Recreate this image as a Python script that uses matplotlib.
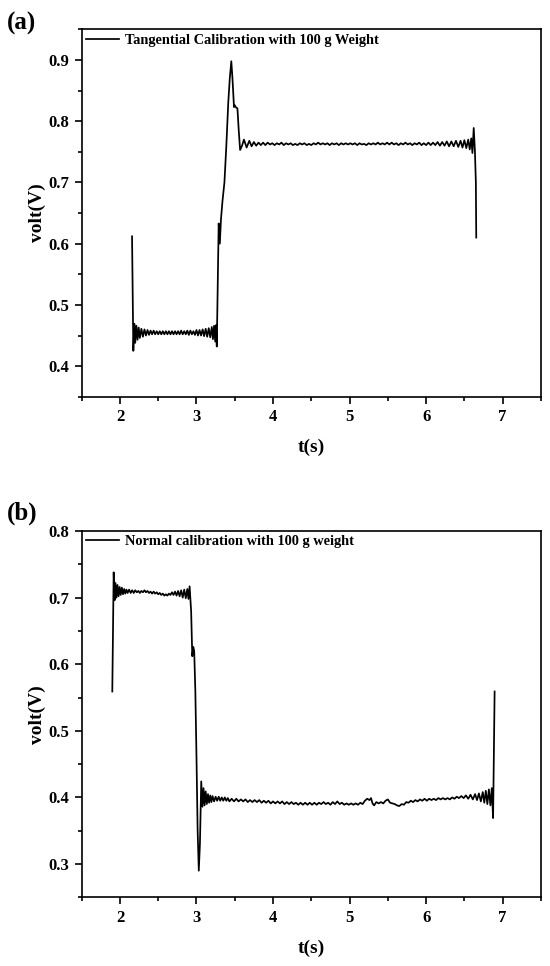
import matplotlib
matplotlib.use("Agg")
import matplotlib.pyplot as plt
from matplotlib.ticker import MultipleLocator

plt.rcParams['font.family'] = ['Liberation Serif', 'DejaVu Serif']
plt.rcParams['font.weight'] = 'bold'

# ---------------- data: panel (a) tangential calibration ----------------
t_a = [2.158, 2.175, 2.188, 2.200, 2.215, 2.230, 2.245, 2.260, 2.280, 2.300,
       2.320, 2.340, 2.360, 2.380, 2.400, 2.420, 2.440, 2.460, 2.480, 2.500,
       2.520, 2.540, 2.560, 2.580, 2.600, 2.620, 2.640, 2.660, 2.680, 2.700,
       2.720, 2.740, 2.760, 2.780, 2.800, 2.820, 2.840, 2.860, 2.880, 2.900,
       2.920, 2.940, 2.960, 2.980, 3.000, 3.020, 3.040, 3.060, 3.080, 3.100,
       3.120, 3.140, 3.160, 3.180, 3.200, 3.215, 3.230, 3.245, 3.255, 3.265,
       3.280, 3.290, 3.305, 3.320, 3.340, 3.365, 3.390, 3.415, 3.435, 3.455,
       3.470, 3.490, 3.500, 3.520, 3.535, 3.552, 3.570, 3.595, 3.620, 3.655,
       3.690, 3.720, 3.750, 3.780, 3.810, 3.840, 3.870, 3.900, 3.930, 3.960,
       3.990, 4.020, 4.050, 4.080, 4.110, 4.140, 4.170, 4.200, 4.230, 4.260,
       4.290, 4.320, 4.350, 4.380, 4.410, 4.440, 4.470, 4.500, 4.530, 4.560,
       4.590, 4.620, 4.650, 4.680, 4.710, 4.740, 4.770, 4.800, 4.830, 4.860,
       4.890, 4.920, 4.950, 4.980, 5.010, 5.040, 5.070, 5.100, 5.130, 5.160,
       5.190, 5.220, 5.250, 5.280, 5.310, 5.340, 5.370, 5.400, 5.430, 5.460,
       5.490, 5.520, 5.550, 5.580, 5.610, 5.640, 5.670, 5.700, 5.730, 5.760,
       5.790, 5.820, 5.850, 5.880, 5.910, 5.940, 5.970, 6.000, 6.030, 6.060,
       6.090, 6.120, 6.150, 6.180, 6.210, 6.240, 6.270, 6.300, 6.330, 6.360,
       6.390, 6.420, 6.450, 6.475, 6.500, 6.525, 6.550, 6.570, 6.590, 6.605,
       6.622, 6.638, 6.650, 6.655]
v_a = [0.612, 0.425, 0.469, 0.438, 0.466, 0.443, 0.463, 0.446, 0.461, 0.448,
       0.460, 0.450, 0.459, 0.451, 0.458, 0.452, 0.458, 0.452, 0.457, 0.452,
       0.457, 0.452, 0.457, 0.452, 0.457, 0.452, 0.457, 0.452, 0.457, 0.452,
       0.457, 0.452, 0.457, 0.452, 0.458, 0.452, 0.457, 0.452, 0.458, 0.451,
       0.458, 0.452, 0.457, 0.451, 0.459, 0.450, 0.459, 0.450, 0.460, 0.449,
       0.461, 0.448, 0.462, 0.447, 0.464, 0.444, 0.466, 0.440, 0.467, 0.432,
       0.560, 0.633, 0.600, 0.640, 0.670, 0.700, 0.760, 0.830, 0.870, 0.898,
       0.870, 0.823, 0.826, 0.822, 0.821, 0.785, 0.753, 0.760, 0.770, 0.757,
       0.768, 0.759, 0.766, 0.760, 0.765, 0.761, 0.765, 0.761, 0.765, 0.762,
       0.764, 0.761, 0.764, 0.762, 0.765, 0.761, 0.764, 0.762, 0.764, 0.761,
       0.763, 0.761, 0.764, 0.762, 0.764, 0.761, 0.763, 0.761, 0.764, 0.762,
       0.765, 0.762, 0.764, 0.762, 0.764, 0.761, 0.764, 0.762, 0.764, 0.761,
       0.764, 0.762, 0.764, 0.762, 0.764, 0.762, 0.764, 0.761, 0.764, 0.762,
       0.763, 0.761, 0.764, 0.762, 0.764, 0.762, 0.765, 0.762, 0.764, 0.762,
       0.765, 0.762, 0.765, 0.762, 0.764, 0.761, 0.764, 0.762, 0.765, 0.762,
       0.764, 0.761, 0.764, 0.762, 0.765, 0.761, 0.764, 0.761, 0.765, 0.761,
       0.765, 0.761, 0.766, 0.760, 0.766, 0.760, 0.767, 0.759, 0.767, 0.759,
       0.768, 0.758, 0.768, 0.757, 0.769, 0.756, 0.770, 0.754, 0.772, 0.748,
       0.789, 0.750, 0.700, 0.610]

# ---------------- data: panel (b) normal calibration ----------------
t_b = [1.900, 1.918, 1.930, 1.942, 1.955, 1.968, 1.982, 1.996, 2.010, 2.025,
       2.040, 2.055, 2.070, 2.085, 2.100, 2.120, 2.140, 2.160, 2.180, 2.200,
       2.220, 2.240, 2.260, 2.280, 2.300, 2.320, 2.340, 2.360, 2.380, 2.400,
       2.420, 2.440, 2.460, 2.480, 2.500, 2.520, 2.540, 2.560, 2.580, 2.600,
       2.620, 2.640, 2.660, 2.680, 2.700, 2.720, 2.740, 2.760, 2.780, 2.800,
       2.820, 2.840, 2.860, 2.880, 2.895, 2.910, 2.930, 2.945, 2.958, 2.970,
       2.985, 3.000, 3.015, 3.030, 3.045, 3.062, 3.078, 3.092, 3.106, 3.120,
       3.135, 3.150, 3.165, 3.180, 3.195, 3.210, 3.230, 3.250, 3.270, 3.290,
       3.310, 3.330, 3.350, 3.370, 3.390, 3.410, 3.430, 3.460, 3.490, 3.520,
       3.550, 3.580, 3.610, 3.640, 3.670, 3.700, 3.730, 3.760, 3.790, 3.820,
       3.850, 3.880, 3.910, 3.940, 3.970, 4.000, 4.030, 4.060, 4.090, 4.120,
       4.150, 4.180, 4.210, 4.240, 4.270, 4.300, 4.330, 4.360, 4.390, 4.420,
       4.450, 4.480, 4.510, 4.540, 4.570, 4.600, 4.630, 4.660, 4.690, 4.720,
       4.750, 4.780, 4.810, 4.840, 4.870, 4.900, 4.930, 4.960, 4.990, 5.020,
       5.050, 5.080, 5.110, 5.140, 5.170, 5.200, 5.230, 5.260, 5.280, 5.300,
       5.320, 5.350, 5.380, 5.410, 5.440, 5.470, 5.500, 5.530, 5.560, 5.590,
       5.620, 5.650, 5.680, 5.710, 5.740, 5.770, 5.800, 5.830, 5.860, 5.890,
       5.920, 5.950, 5.980, 6.010, 6.040, 6.070, 6.100, 6.130, 6.160, 6.190,
       6.220, 6.250, 6.280, 6.310, 6.340, 6.370, 6.400, 6.430, 6.460, 6.490,
       6.520, 6.550, 6.580, 6.610, 6.640, 6.665, 6.690, 6.715, 6.740, 6.760,
       6.780, 6.800, 6.820, 6.840, 6.858, 6.875, 6.895]
v_b = [0.559, 0.738, 0.696, 0.722, 0.700, 0.719, 0.702, 0.716, 0.704, 0.715,
       0.705, 0.713, 0.706, 0.712, 0.707, 0.712, 0.707, 0.711, 0.707, 0.711,
       0.708, 0.710, 0.707, 0.710, 0.708, 0.711, 0.708, 0.710, 0.707, 0.709,
       0.706, 0.709, 0.706, 0.708, 0.705, 0.707, 0.704, 0.706, 0.703, 0.705,
       0.703, 0.706, 0.704, 0.708, 0.704, 0.709, 0.703, 0.710, 0.702, 0.711,
       0.700, 0.712, 0.699, 0.713, 0.698, 0.717, 0.680, 0.612, 0.626, 0.620,
       0.560, 0.460, 0.350, 0.290, 0.330, 0.424, 0.386, 0.414, 0.388, 0.409,
       0.390, 0.405, 0.392, 0.403, 0.393, 0.402, 0.394, 0.401, 0.395, 0.401,
       0.395, 0.400, 0.395, 0.400, 0.395, 0.399, 0.394, 0.398, 0.394, 0.398,
       0.394, 0.397, 0.394, 0.397, 0.393, 0.396, 0.393, 0.396, 0.393, 0.396,
       0.392, 0.395, 0.392, 0.395, 0.391, 0.394, 0.391, 0.394, 0.391, 0.394,
       0.390, 0.393, 0.390, 0.393, 0.390, 0.392, 0.389, 0.392, 0.389, 0.392,
       0.389, 0.392, 0.389, 0.392, 0.389, 0.392, 0.390, 0.393, 0.390, 0.392,
       0.389, 0.393, 0.390, 0.394, 0.390, 0.392, 0.389, 0.391, 0.389, 0.391,
       0.389, 0.391, 0.389, 0.392, 0.390, 0.395, 0.398, 0.396, 0.399, 0.391,
       0.388, 0.393, 0.391, 0.393, 0.391, 0.395, 0.397, 0.392, 0.391, 0.390,
       0.388, 0.387, 0.390, 0.389, 0.393, 0.392, 0.395, 0.393, 0.396, 0.394,
       0.397, 0.395, 0.398, 0.395, 0.398, 0.396, 0.398, 0.396, 0.399, 0.397,
       0.399, 0.397, 0.399, 0.397, 0.400, 0.398, 0.401, 0.399, 0.402, 0.399,
       0.403, 0.398, 0.404, 0.397, 0.405, 0.396, 0.406, 0.394, 0.408, 0.392,
       0.410, 0.390, 0.412, 0.388, 0.414, 0.369, 0.559]

label_a = "Tangential Calibration with 100 g Weight"
label_b = "Normal calibration with 100 g weight"
x_ticks = [2, 3, 4, 5, 6, 7]
y_ticks_a = [0.4, 0.5, 0.6, 0.7, 0.8, 0.9]
y_ticks_b = [0.3, 0.4, 0.5, 0.6, 0.7, 0.8]

fig = plt.figure(figsize=(5.5, 9.66), dpi=100)
ax_a = fig.add_axes([0.1485, 0.5893, 0.8350, 0.3803])
ax_b = fig.add_axes([0.1485, 0.0711, 0.8350, 0.3792])


def style(ax, t, v, label, yticks, ylim):
    ax.plot(t, v, color='black', lw=1.25, label=label)
    ax.set_xlim(1.5, 7.5)
    ax.set_ylim(*ylim)
    ax.set_xticks(x_ticks)
    ax.set_yticks(yticks)
    ax.xaxis.set_minor_locator(MultipleLocator(0.5))
    ax.yaxis.set_minor_locator(MultipleLocator(0.05))
    ax.set_xticklabels([str(x) for x in x_ticks])
    ax.set_yticklabels([f"{y:.1f}" for y in yticks])
    ax.tick_params(which='both', direction='out', top=False, right=False,
                   width=1.2, labelsize=12)
    ax.tick_params(which='major', length=5, pad=4)
    ax.tick_params(which='minor', length=3)
    for s in ax.spines.values():
        s.set_linewidth(1.2)
    for lab in ax.get_xticklabels() + ax.get_yticklabels():
        lab.set_fontweight('bold')
    ax.set_xlabel("t(s)", fontsize=14, fontweight='bold', labelpad=10)
    ax.set_ylabel("volt(V)", fontsize=14, fontweight='bold', labelpad=2)
    leg = ax.legend(loc='upper left', bbox_to_anchor=(0.0, 1.0), frameon=False,
                    fontsize=10.4, handlelength=2.3, handletextpad=0.4,
                    borderaxespad=0.0, borderpad=0.3)
    for txt in leg.get_texts():
        txt.set_fontweight('bold')


style(ax_a, t_a, v_a, label_a, y_ticks_a, (0.35, 0.95))
style(ax_b, t_b, v_b, label_b, y_ticks_b, (0.25, 0.8))

fig.text(0.013, 0.976, "(a)", fontsize=18, fontweight='bold', va='center', ha='left')
fig.text(0.013, 0.469, "(b)", fontsize=18, fontweight='bold', va='center', ha='left')

fig.savefig("out.png", dpi=100)
